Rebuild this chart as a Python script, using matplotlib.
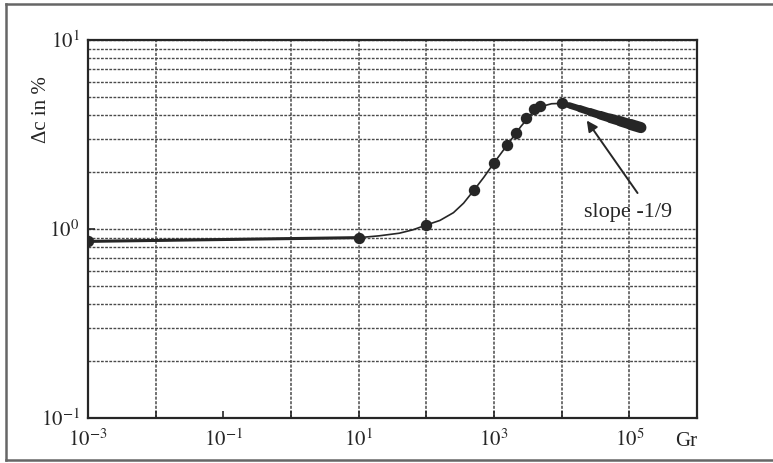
import numpy as np
import matplotlib.pyplot as plt
from matplotlib.lines import Line2D

plt.rcParams['font.family'] = ['Liberation Serif', 'DejaVu Serif']
plt.rcParams['mathtext.fontset'] = 'stix'

# measured points (Gr, delta c in %)
gr_pts = [1e-3, 1e1, 1e2, 10**2.70, 10**3.0, 10**3.19, 10**3.32, 10**3.47, 10**3.59, 10**3.68, 10**4.0]
dc_pts = [0.86, 0.90, 1.05, 1.60, 2.24, 2.77, 3.21, 3.85, 4.30, 4.50, 4.62]

# thin fitted curve
gr_curve = [1e-3, 1e1, 10**1.3, 10**1.6, 10**1.8, 1e2, 10**2.2, 10**2.4, 10**2.55, 10**2.7,
            10**2.85, 1e3, 10**3.2, 10**3.4, 10**3.55, 10**3.7, 10**3.85, 1e4]
dc_curve = [0.86, 0.90, 0.92, 0.95, 0.99, 1.05, 1.11, 1.22, 1.37, 1.60,
            1.88, 2.24, 2.80, 3.50, 4.05, 4.45, 4.60, 4.62]

# dense points along the slope -1/9 branch
gr_slope = [1e4, 10**4.12, 10**4.27, 10**4.42, 10**4.57, 10**4.72, 10**4.87, 10**5.02, 10**5.17]
dc_slope = [4.62, 4.50, 4.33, 4.16, 4.00, 3.85, 3.71, 3.57, 3.44]

xticks = [1e-3, 1e-2, 1e-1, 1e0, 1e1, 1e2, 1e3, 1e4, 1e5]
xlabels = ['$10^{-3}$', '', '$10^{-1}$', '', '$10^{1}$', '', '$10^{3}$', '', '$10^{5}$']
yticks = [0.1, 1, 10]
ylabels = ['$10^{-1}$', '$10^{0}$', '$10^{1}$']

ink = '#262626'

fig = plt.figure(figsize=(7.73, 4.63), dpi=100)
ax = fig.add_axes([0.1138, 0.0972, 0.788, 0.8164])
ax.set_xscale('log')
ax.set_yscale('log')
ax.set_xlim(1e-3, 1e6)
ax.set_ylim(0.1, 10)

ax.plot(gr_curve, dc_curve, color=ink, lw=1.2, zorder=3)
ax.plot(gr_curve[:2], dc_curve[:2], color=ink, lw=2.2, zorder=3)
# the branch gets thicker towards large Gr (overlapping markers)
widths = np.linspace(4, 8, len(gr_slope) - 1)
for i in range(len(gr_slope) - 1):
    ax.plot(gr_slope[i:i + 2], dc_slope[i:i + 2], color=ink, lw=widths[i],
            solid_capstyle='round', zorder=3)
ax.plot(gr_pts, dc_pts, 'o', color=ink, ms=7.2, zorder=4)

ax.annotate('', xy=(10**4.37, 3.75), xytext=(10**5.12, 1.55),
            arrowprops=dict(arrowstyle='-|>', color=ink, lw=1.4,
                            shrinkA=0, shrinkB=0, mutation_scale=16))
ax.text(10**4.98, 1.22, 'slope -1/9', fontsize=16, color=ink,
        ha='center', va='center')

ax.set_xticks(xticks)
ax.set_xticklabels(xlabels)
ax.set_yticks(yticks)
ax.set_yticklabels(ylabels)
ax.xaxis.set_minor_locator(plt.NullLocator())
ax.tick_params(axis='both', which='major', direction='in', length=5, width=1.2,
               color=ink, labelsize=15, labelcolor=ink)
ax.tick_params(axis='x', pad=8)
ax.tick_params(axis='y', pad=6)
ax.tick_params(axis='y', which='minor', length=0)

ax.grid(axis='y', which='both', color='#4a4a4a', lw=1.0, linestyle=(0, (2, 1)))
ax.grid(axis='x', which='major', color='#4a4a4a', lw=1.1, linestyle=(0, (2, 1)))
for t in ax.xaxis.get_major_ticks():
    if np.isclose(t.get_loc(), 0.1):
        t.gridline.set_visible(False)

for s in ax.spines.values():
    s.set_color(ink)
    s.set_linewidth(1.6)

fig.text(42 / 773, 1 - 110 / 463, 'Δc in %', rotation=90, fontsize=15,
         color=ink, ha='center', va='center')
fig.text(686 / 773, 1 - 441 / 463, 'Gr', fontsize=15, color=ink,
         ha='center', va='center')

# scanned page frame
fig.add_artist(Line2D([6 / 773, 6 / 773], [1 - 4 / 463, 1 - 460 / 463], color='#666666', lw=1.8))
fig.add_artist(Line2D([6 / 773, 1], [1 - 4 / 463, 1 - 4 / 463], color='#666666', lw=1.8))
fig.add_artist(Line2D([6 / 773, 1], [1 - 460 / 463, 1 - 460 / 463], color='#666666', lw=1.8))

fig.savefig('out.png', dpi=100)
